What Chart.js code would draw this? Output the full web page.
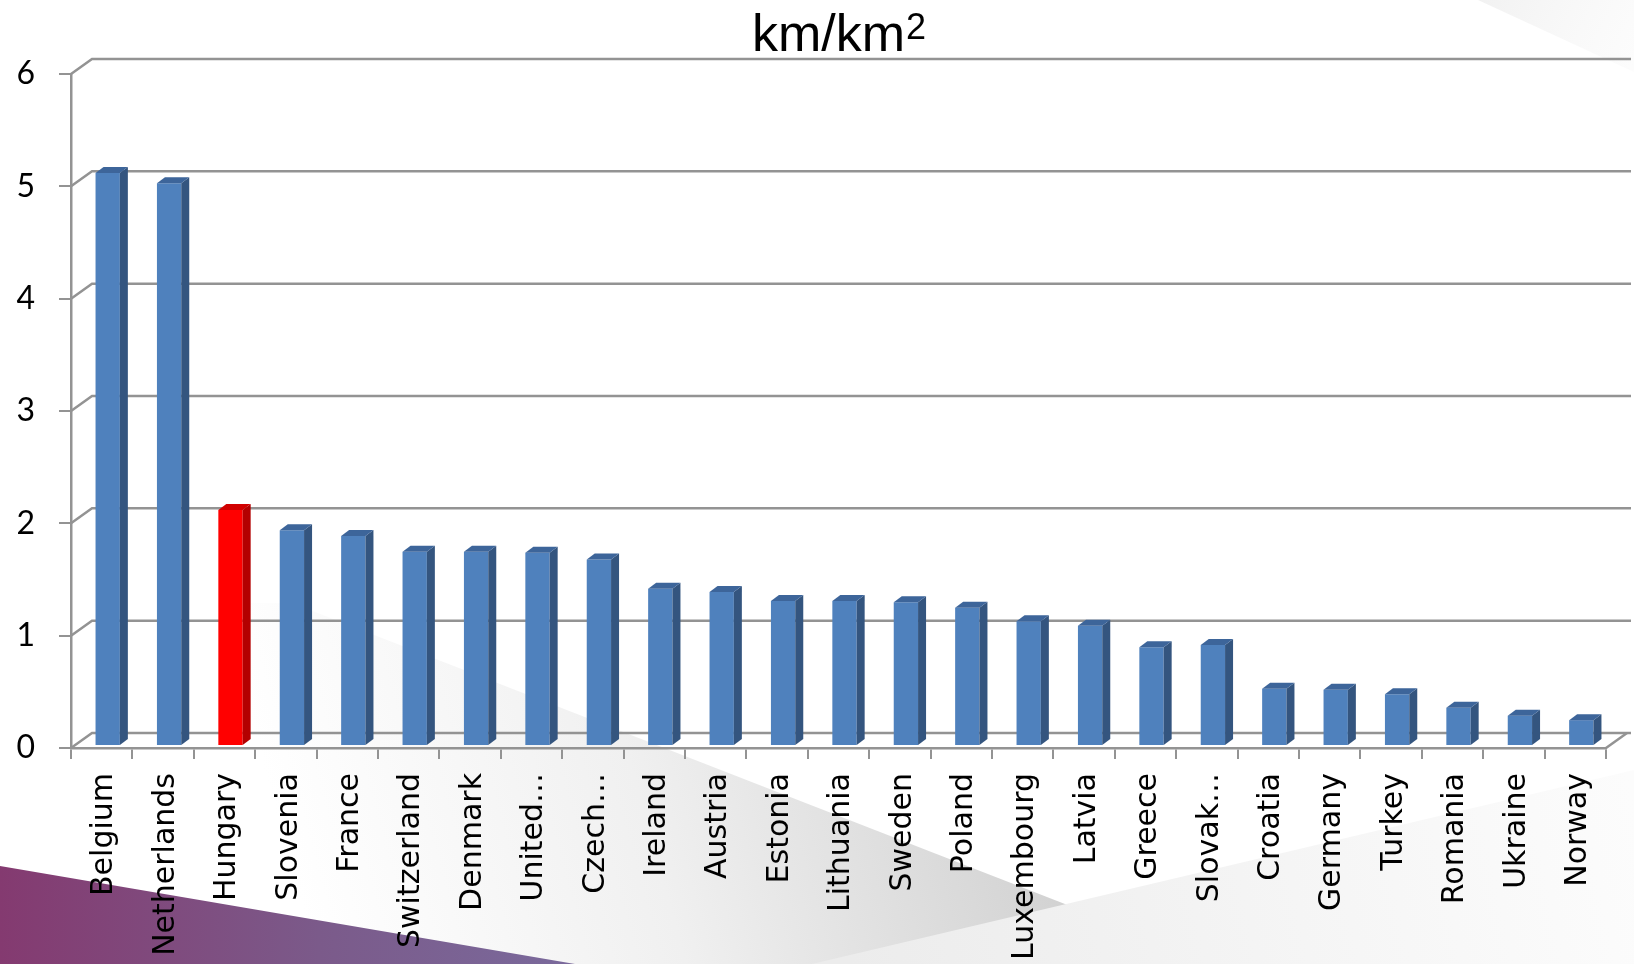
<!DOCTYPE html>
<html>
<head>
<meta charset="utf-8">
<script src="https://cdn.jsdelivr.net/npm/chart.js@4/dist/chart.umd.min.js"></script>
<style>
  html, body { margin: 0; padding: 0; background: #ffffff; }
  #wrap { width: 1634px; height: 964px; position: relative; }
  canvas { display: block; }
</style>
</head>
<body>
<div id="wrap"><canvas id="c" width="1634" height="964"></canvas></div>
<script>
// ---- data ----
const categories = ['Belgium', 'Netherlands', 'Hungary', 'Slovenia', 'France', 'Switzerland', 'Denmark', 'United…', 'Czech…', 'Ireland', 'Austria', 'Estonia', 'Lithuania', 'Sweden', 'Poland', 'Luxembourg', 'Latvia', 'Greece', 'Slovak…', 'Croatia', 'Germany', 'Turkey', 'Romania', 'Ukraine', 'Norway'];
const values = [5.10, 5.01, 2.10, 1.92, 1.87, 1.73, 1.73, 1.72, 1.66, 1.40, 1.37, 1.29, 1.29, 1.28, 1.23, 1.11, 1.07, 0.88, 0.90, 0.51, 0.50, 0.46, 0.34, 0.27, 0.23];
const yTicks = [0, 1, 2, 3, 4, 5, 6];
const highlight = 'Hungary';
const titleBase = 'km/km';
const titleSup = '2';

// ---- style ----
const BLUE = { front: '#4f81bd', side: '#34557f', top: '#3d659a' };
const RED = { front: '#ff0000', side: '#b30000', top: '#d10000' };
const GRID = '#939393';
const WALL = { dx: 21, dy: 15 };      // back wall offset
const BAR3D = { dx: 8, dy: 6 };       // bar depth
const BAR_SHIFT = { x: 6, y: -2 };    // bars sit mid-depth

const isHi = categories.map(c => c === highlight);

const backgroundPlugin = {
  id: 'bg',
  beforeDraw(chart) {
    const ctx = chart.ctx, W = chart.width, H = chart.height;
    ctx.save();
    ctx.fillStyle = '#ffffff';
    ctx.fillRect(0, 0, W, H);
    // top-right faint shape
    let g = ctx.createLinearGradient(1480, 0, 1634, 80);
    g.addColorStop(0, 'rgba(236,236,236,0.7)');
    g.addColorStop(1, 'rgba(246,246,246,0.3)');
    ctx.fillStyle = g;
    ctx.beginPath(); ctx.moveTo(1478, 0); ctx.lineTo(1634, 0); ctx.lineTo(1634, 72); ctx.closePath(); ctx.fill();
    // grey diagonal wedge (fades to white on the left)
    g = ctx.createLinearGradient(300, 900, 1060, 690);
    g.addColorStop(0, 'rgba(255,255,255,1)');
    g.addColorStop(0.45, 'rgba(240,240,240,1)');
    g.addColorStop(1, 'rgba(206,206,206,1)');
    ctx.fillStyle = g;
    ctx.beginPath(); ctx.moveTo(0, 603); ctx.lineTo(292, 603); ctx.lineTo(1219, 964); ctx.lineTo(0, 964); ctx.closePath(); ctx.fill();
    // lighter bottom-right shape
    g = ctx.createLinearGradient(850, 964, 1634, 800);
    g.addColorStop(0, 'rgba(236,236,236,1)');
    g.addColorStop(1, 'rgba(252,252,252,1)');
    ctx.fillStyle = g;
    ctx.beginPath(); ctx.moveTo(812, 964); ctx.lineTo(1634, 770); ctx.lineTo(1634, 964); ctx.closePath(); ctx.fill();
    // purple wedge
    g = ctx.createLinearGradient(0, 0, 580, 0);
    g.addColorStop(0, '#843a70');
    g.addColorStop(0.55, '#7b5a8a');
    g.addColorStop(1, '#7a6a9c');
    ctx.fillStyle = g;
    ctx.beginPath(); ctx.moveTo(0, 866); ctx.lineTo(575, 964); ctx.lineTo(0, 964); ctx.closePath(); ctx.fill();
    ctx.restore();
  }
};

const wallPlugin = {
  id: 'wall',
  beforeDatasetsDraw(chart) {
    const ctx = chart.ctx, y = chart.scales.y, a = chart.chartArea;
    ctx.save();
    ctx.strokeStyle = GRID;
    ctx.lineWidth = 2.5;
    yTicks.forEach(v => {
      const py = y.getPixelForValue(v);
      ctx.beginPath();
      ctx.moveTo(a.left, py);
      ctx.lineTo(a.left + WALL.dx, py - WALL.dy);
      ctx.lineTo(a.right + 25, py - WALL.dy);
      ctx.stroke();
    });
    // floor right edge
    ctx.beginPath();
    ctx.moveTo(a.right, a.bottom);
    ctx.lineTo(a.right + WALL.dx, a.bottom - WALL.dy);
    ctx.stroke();
    ctx.restore();
    ctx.save();
    ctx.translate(BAR_SHIFT.x, BAR_SHIFT.y);
  },
  afterDatasetsDraw(chart) {
    const ctx = chart.ctx;
    const meta = chart.getDatasetMeta(0);
    meta.data.forEach((bar, i) => {
      const c = isHi[i] ? RED : BLUE;
      const half = bar.width / 2;
      const l = bar.x - half, r = bar.x + half, t = bar.y, b = bar.base;
      ctx.fillStyle = c.side;
      ctx.beginPath();
      ctx.moveTo(r, t); ctx.lineTo(r + BAR3D.dx, t - BAR3D.dy);
      ctx.lineTo(r + BAR3D.dx, b - BAR3D.dy); ctx.lineTo(r, b); ctx.closePath(); ctx.fill();
      ctx.fillStyle = c.top;
      ctx.beginPath();
      ctx.moveTo(l, t); ctx.lineTo(l + BAR3D.dx, t - BAR3D.dy);
      ctx.lineTo(r + BAR3D.dx, t - BAR3D.dy); ctx.lineTo(r, t); ctx.closePath(); ctx.fill();
    });
    ctx.restore();
  }
};

const titlePlugin = {
  id: 'ttl',
  afterDraw(chart) {
    const ctx = chart.ctx, a = chart.chartArea;
    const cx = (a.left + a.right) / 2;
    ctx.save();
    ctx.fillStyle = '#000';
    ctx.textBaseline = 'alphabetic';
    const big = '52px "Liberation Sans", Arial, sans-serif';
    const sml = '36px "Liberation Sans", Arial, sans-serif';
    ctx.font = big;
    const w1 = ctx.measureText(titleBase).width;
    ctx.font = sml;
    const w2 = ctx.measureText(titleSup).width;
    const x0 = cx - (w1 + w2) / 2;
    ctx.font = big;
    ctx.fillText(titleBase, x0, 51);
    ctx.font = sml;
    ctx.fillText(titleSup, x0 + w1 + 1, 39);
    ctx.restore();
  }
};

new Chart(document.getElementById('c'), {
  type: 'bar',
  data: {
    labels: categories,
    datasets: [{
      data: values,
      backgroundColor: isHi.map(h => h ? RED.front : BLUE.front),
      borderWidth: 0,
      barPercentage: 0.396,
      categoryPercentage: 1.0
    }]
  },
  options: {
    responsive: false,
    devicePixelRatio: 1,
    animation: false,
    layout: { padding: { top: 74, right: 28, left: 0, bottom: 0 } },
    plugins: { legend: { display: false }, tooltip: { enabled: false }, title: { display: false } },
    scales: {
      x: {
        grid: { display: true, offset: true, drawOnChartArea: false, drawTicks: true, tickLength: 11, color: GRID, lineWidth: 2 },
        border: { display: true, color: GRID, width: 2.5 },
        ticks: {
          autoSkip: false, minRotation: 90, maxRotation: 90, padding: 14, labelOffset: 3,
          color: '#000', font: { family: '"DejaVu Sans", Verdana, sans-serif', size: 30 }
        },
        afterFit(s) { s.height = 216; }
      },
      y: {
        min: 0, max: 6,
        afterBuildTicks(s) { s.ticks = yTicks.map(v => ({ value: v })); },
        grid: { display: true, drawOnChartArea: false, drawTicks: true, tickLength: 12, color: GRID, lineWidth: 2 },
        border: { display: true, color: GRID, width: 2.5 },
        ticks: { padding: 24, color: '#000', font: { family: 'Lato, "Open Sans", sans-serif', size: 32 } },
        afterFit(s) { s.width = 71; }
      }
    }
  },
  plugins: [backgroundPlugin, wallPlugin, titlePlugin]
});
</script>
</body>
</html>
